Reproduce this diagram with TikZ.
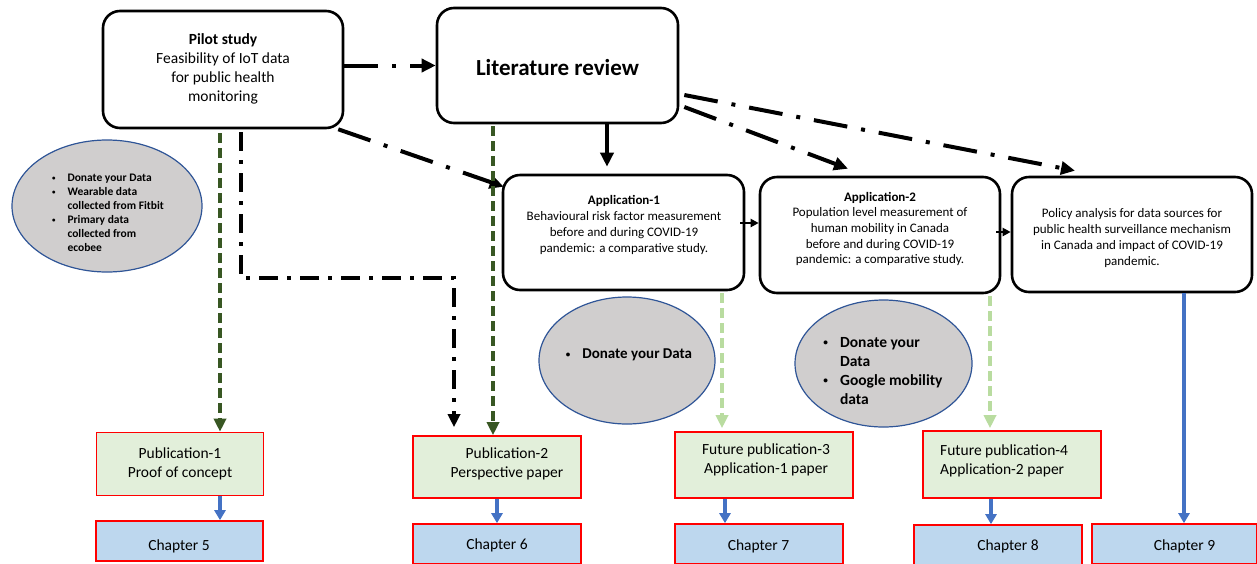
\documentclass[tikz,border=0pt]{standalone}
\usepackage{fontspec}
\usepackage{graphicx}
\setmainfont{Carlito}
\usetikzlibrary{arrows.meta,shapes.geometric,calc}

\definecolor{darkgreen}{HTML}{385723}
\definecolor{palegreen}{HTML}{B9DCA0}
\definecolor{wordblue}{HTML}{4472C4}
\definecolor{pubfill}{HTML}{E2EFDA}
\definecolor{chapfill}{HTML}{BDD7EE}
\definecolor{ovalfill}{HTML}{D0CECE}
\definecolor{ovalline}{HTML}{2F5597}

% small list bullet
\newcommand{\listdot}{\raisebox{0.12em}{\scalebox{0.6}{\textbullet}}}

\begin{document}
\begin{tikzpicture}[x=1pt,y=-1pt,
  rbox/.style={draw=black, line width=2.6pt, rounded corners=17pt, fill=white, inner sep=0pt},
  txt/.style={align=center, inner sep=0pt},
  apptext/.style={txt, font=\fontsize{13}{15.7}\selectfont},
  pubbox/.style={draw=red, line width=1.6pt, fill=pubfill, inner sep=0pt},
  chapbox/.style={draw=red, line width=1.6pt, fill=chapfill, inner sep=0pt},
  pubtext/.style={txt, font=\fontsize{15.5}{19}\selectfont},
  oval/.style={ellipse, draw=ovalline, line width=1.2pt, fill=ovalfill, inner sep=0pt},
  blacktip/.style={-{Triangle[length=14pt,width=13pt]}},
  longdd/.style={blacktip, line width=4pt, dash pattern=on 34pt off 14pt on 4pt off 14pt},
  shortdd/.style={line width=3.6pt, dash pattern=on 19pt off 9pt on 4pt off 9pt, -{Triangle[length=13pt,width=12pt]}},
  solidarrow/.style={blacktip, line width=4pt},
  thinarrow/.style={line width=2pt, -{Triangle[length=8pt,width=8pt]}},
  gdash/.style={draw=darkgreen, line width=4pt, dash pattern=on 10pt off 5pt, -{Triangle[length=13pt,width=12pt]}},
  lgdash/.style={draw=palegreen, line width=4pt, dash pattern=on 10pt off 5pt, -{Triangle[length=13pt,width=12pt]}},
  bluearrow/.style={draw=wordblue, line width=3.4pt, -{Triangle[length=10pt,width=11pt]}}
]
\useasboundingbox (0,0) rectangle (1257,563);

% Top row: pilot study and literature review
\node[rbox, minimum width=240pt, minimum height=117pt] (pilot) at (223,69.5) {};
\node[txt, font=\fontsize{15.5}{19}\selectfont] (pilott) at (223,69) {\textbf{Pilot study}\\Feasibility of IoT data\\for public health\\monitoring};

\node[rbox, minimum width=241pt, minimum height=115pt] (lit) at (557.5,65.5) {};
\node[txt, font=\fontsize{23}{28}\selectfont\bfseries] (litt) at (557.5,68) {Literature review};

% Second row: applications and policy analysis
\node[rbox, minimum width=241pt, minimum height=115pt] (app1) at (623.5,232.5) {};
\node[apptext] (app1t) at (624,225) {\textbf{Application-1}\\Behavioural risk factor measurement\\before and during COVID-19\\pandemic: a comparative study.};

\node[rbox, minimum width=240pt, minimum height=116pt] (app2) at (880,235) {};
\node[apptext] (app2t) at (880,229) {\textbf{Application-2}\\Population level measurement of\\human mobility in Canada\\before and during COVID-19\\pandemic: a comparative study.};

\node[rbox, minimum width=240pt, minimum height=115pt] (policy) at (1132,234.5) {};
\node[apptext] (policyt) at (1132,238) {Policy analysis for data sources for\\public health surveillance mechanism\\in Canada and impact of COVID-19\\pandemic.};

% Data source ovals
\node[oval, minimum width=190pt, minimum height=132pt] (ell1) at (107,206) {};
\node[inner sep=0pt, font=\fontsize{11.5}{14}\selectfont\bfseries] (ell1t) at (108,214) {%
  \begin{tabular}{@{}c@{\hspace{12pt}}l@{}}
  \listdot & Donate your Data\\
  \listdot & Wearable data\\
           & collected from Fitbit\\
  \listdot & Primary data\\
           & collected from\\
           & ecobee
  \end{tabular}};

\node[oval, minimum width=176pt, minimum height=127pt] (ell2) at (627,360.5) {};
\node[inner sep=0pt, font=\fontsize{15}{19}\selectfont\bfseries] (ell2t) at (629,355) {%
  \begin{tabular}{@{}c@{\hspace{12pt}}l@{}}
  \listdot & Donate your Data
  \end{tabular}};

\node[oval, minimum width=177pt, minimum height=127pt] (ell3) at (883.5,363.5) {};
\node[inner sep=0pt, font=\fontsize{15.5}{19}\selectfont\bfseries] (ell3t) at (883,372) {%
  \begin{tabular}{@{}c@{\hspace{12pt}}l@{}}
  \listdot & Donate your\\
           & Data\\
  \listdot & Google mobility\\
           & data
  \end{tabular}};

% Publications
\node[pubbox, minimum width=167pt, minimum height=63pt] (pub1) at (180,464) {};
\node[pubtext] (pub1t) at (180,463.5) {Publication-1\\Proof of concept};
\node[pubbox, minimum width=168pt, minimum height=62pt] (pub2) at (497,467) {};
\node[pubtext] (pub2t) at (507,463.5) {Publication-2\\Perspective paper};
\node[pubbox, minimum width=178pt, minimum height=66pt] (pub3) at (764,465) {};
\node[pubtext] (pub3t) at (766,460) {Future publication-3\\Application-1 paper};
\node[pubbox, minimum width=178pt, minimum height=67pt] (pub4) at (1012,464.5) {};
\node[pubtext, align=left, anchor=west] (pub4t) at (940,461) {Future publication-4\\Application-2 paper};

% Chapters
\node[chapbox, minimum width=167pt, minimum height=40pt] (ch5) at (179.5,541) {};
\node[pubtext] (ch5t) at (179,546) {Chapter 5};
\node[chapbox, minimum width=168pt, minimum height=40pt] (ch6) at (497,544) {};
\node[pubtext] (ch6t) at (497,545) {Chapter 6};
\node[chapbox, minimum width=168pt, minimum height=40pt] (ch7) at (759,544) {};
\node[pubtext] (ch7t) at (758.5,546) {Chapter 7};
\node[chapbox, minimum width=168pt, minimum height=40pt] (ch8) at (998,545) {};
\node[pubtext] (ch8t) at (1008,546) {Chapter 8};
\node[chapbox, minimum width=165pt, minimum height=40pt] (ch9) at (1174.5,544) {};
\node[pubtext] (ch9t) at (1184.5,546) {Chapter 9};

% Column positions of the vertical connectors
\coordinate (gx1) at (220,0);
\coordinate (gx2) at (493,0);
\coordinate (lx1) at (722,0);
\coordinate (lx2) at (990,0);
\coordinate (bx2) at (497,0);
\coordinate (bx3) at (725,0);
\coordinate (bx4) at (991,0);
\coordinate (bx5) at (1184,0);
\coordinate (ax) at (607,0);
\coordinate (elbow) at (241,278);
\coordinate (elbow2) at (454,278);

% Dash-dot flows out of the pilot study and the literature review
\draw[longdd] (pilot.east |- lit.west) -- (lit.west);
\draw[longdd] ($(pilot.south east)+(-6,0)$) -- ($(app1.north west)+(2,13)$);
\draw[solidarrow] (lit.south -| ax) -- ($(app1.north -| ax)+(0,-7)$);
\draw[longdd] ($(lit.east)+(5,41.5)$) -- ($(app2.north)+(-32,-7)$);
\draw[longdd] ($(lit.east)+(5,29.5)$) -- ($(policy.north)+(-57,-5)$);
\draw[shortdd] ($(pilot.south -| elbow)+(0,3)$) -- (elbow) -- (elbow2) -- ($(pub2.north -| elbow2)+(0,-8)$);

% Links between the applications
\draw[thinarrow] ($(app1.east)+(-5,-9.5)$) coordinate (a12) -- (app2.west |- a12);
\draw[thinarrow] ($(app2.east)+(-5,-3)$) coordinate (a23) -- (policy.west |- a23);

% Green dashed flows into publications
\draw[gdash] ($(pilot.south -| gx1)+(0,4)$) -- (pub1.north -| gx1);
\draw[gdash] ($(lit.south -| gx2)+(0,2)$) -- (pub2.north -| gx2);
\draw[lgdash] ($(app1.south -| lx1)+(0,2)$) -- ($(pub3.north -| lx1)+(0,-3)$);
\draw[lgdash] ($(app2.south -| lx2)+(0,2)$) -- ($(pub4.north -| lx2)+(0,-2)$);

% Publications into chapters
\draw[bluearrow] (pub1.south -| gx1) -- (ch5.north -| gx1);
\draw[bluearrow] (pub2.south -| bx2) -- (ch6.north -| bx2);
\draw[bluearrow] (pub3.south -| bx3) -- (ch7.north -| bx3);
\draw[bluearrow] (pub4.south -| bx4) -- (ch8.north -| bx4);
\draw[bluearrow] (policy.south -| bx5) -- (ch9.north -| bx5);
\end{tikzpicture}
\end{document}
